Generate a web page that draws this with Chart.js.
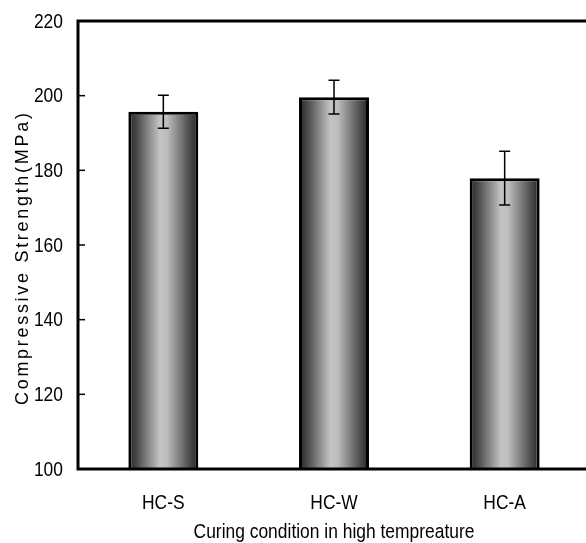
<!DOCTYPE html>
<html>
<head>
<meta charset="utf-8">
<script src="https://cdn.jsdelivr.net/npm/chart.js@4.4.1/dist/chart.umd.min.js"></script>
<style>
  html, body { margin: 0; padding: 0; background: #fff; overflow: hidden; }
  canvas { display: block; }
</style>
</head>
<body>
<canvas id="strengthChart" width="596" height="543"></canvas>
<script>
const categories = ['HC-S', 'HC-W', 'HC-A'];
const strength = [195.7, 199.6, 177.9];
const errors = [4.4, 4.5, 7.2];
const xTitle = 'Curing condition in high tempreature';
const yTitle = 'Compressive Strength(MPa)';

const FONT = "'Liberation Sans', Arial, sans-serif";
const SX = 0.85;   // the original lettering is condensed
const BAR_W = 70;

function barGradient(context) {
    const chart = context.chart;
    if (!chart.chartArea) return '#888';
    const x = chart.scales.x.getPixelForValue(context.dataIndex);
    const g = chart.ctx.createLinearGradient(x - BAR_W / 2, 0, x + BAR_W / 2, 0);
    g.addColorStop(0, '#242424');
    g.addColorStop(0.12, '#4a4a4a');
    g.addColorStop(0.45, '#c4c4c4');
    g.addColorStop(0.55, '#bebebe');
    g.addColorStop(0.88, '#4a4a4a');
    g.addColorStop(1, '#242424');
    return g;
}

function narrowText(ctx, text, x, y, align, baseline) {
    ctx.save();
    ctx.translate(x, y);
    ctx.scale(SX, 1);
    ctx.textAlign = align;
    ctx.textBaseline = baseline;
    ctx.fillText(text, 0, 0);
    ctx.restore();
}

// frame, inward ticks, error bars, condensed labels
const decorations = {
    id: 'decorations',
    afterDatasetsDraw(chart) {
        const ctx = chart.ctx;
        const a = chart.chartArea;
        const xs = chart.scales.x, ys = chart.scales.y;
        ctx.save();
        ctx.strokeStyle = '#000';
        ctx.fillStyle = '#000';

        // error bars
        ctx.lineWidth = 1.5;
        strength.forEach((v, i) => {
            const x = xs.getPixelForValue(i);
            const yt = ys.getPixelForValue(v + errors[i]);
            const yb = ys.getPixelForValue(v - errors[i]);
            ctx.beginPath();
            ctx.moveTo(x, yt); ctx.lineTo(x, yb);
            ctx.moveTo(x - 5.5, yt); ctx.lineTo(x + 5.5, yt);
            ctx.moveTo(x - 5.5, yb); ctx.lineTo(x + 5.5, yb);
            ctx.stroke();
        });

        // inward ticks on y axis
        ys.ticks.forEach(t => {
            const y = ys.getPixelForValue(t.value);
            ctx.beginPath();
            ctx.moveTo(a.left, y); ctx.lineTo(a.left + 7, y);
            ctx.stroke();
        });

        // frame: left, top, bottom (right edge runs off the page)
        ctx.lineWidth = 3;
        ctx.beginPath();
        ctx.moveTo(a.right + 10, a.top);
        ctx.lineTo(a.left, a.top);
        ctx.lineTo(a.left, a.bottom);
        ctx.lineTo(a.right + 10, a.bottom);
        ctx.stroke();

        // tick labels
        ctx.font = '20.5px ' + FONT;
        ys.ticks.forEach(t => {
            narrowText(ctx, String(t.value), 63, ys.getPixelForValue(t.value) + 1, 'right', 'middle');
        });
        chart.data.labels.forEach((lab, i) => {
            narrowText(ctx, lab, xs.getPixelForValue(i), 509, 'center', 'alphabetic');
        });

        // axis titles
        narrowText(ctx, xTitle, (a.left + a.right) / 2, 538, 'center', 'alphabetic');

        ctx.translate(28, 405);
        ctx.rotate(-Math.PI / 2);
        ctx.font = '18px ' + FONT;
        ctx.letterSpacing = '2.7px';
        ctx.textAlign = 'left';
        ctx.textBaseline = 'alphabetic';
        ctx.fillText(yTitle, 0, 0);
        ctx.restore();
    }
};

new Chart(document.getElementById('strengthChart').getContext('2d'), {
    type: 'bar',
    data: {
        labels: categories,
        datasets: [{
            label: 'Compressive Strength',
            data: strength,
            backgroundColor: barGradient,
            borderColor: '#000',
            borderWidth: 3,
            borderSkipped: false,
            barPercentage: 1,
            categoryPercentage: 0.41
        }]
    },
    options: {
        responsive: false,
        animation: false,
        layout: { padding: { top: 21, right: 6, left: 0, bottom: 0 } },
        plugins: { legend: { display: false }, tooltip: { enabled: false } },
        scales: {
            x: {
                grid: { display: false },
                border: { display: false },
                ticks: { display: false },
                afterFit(scale) { scale.height = 74; }
            },
            y: {
                min: 100,
                max: 220,
                grid: { display: false },
                border: { display: false },
                ticks: { display: false, stepSize: 20 },
                afterFit(scale) { scale.width = 78; }
            }
        }
    },
    plugins: [decorations]
});
</script>
</body>
</html>
